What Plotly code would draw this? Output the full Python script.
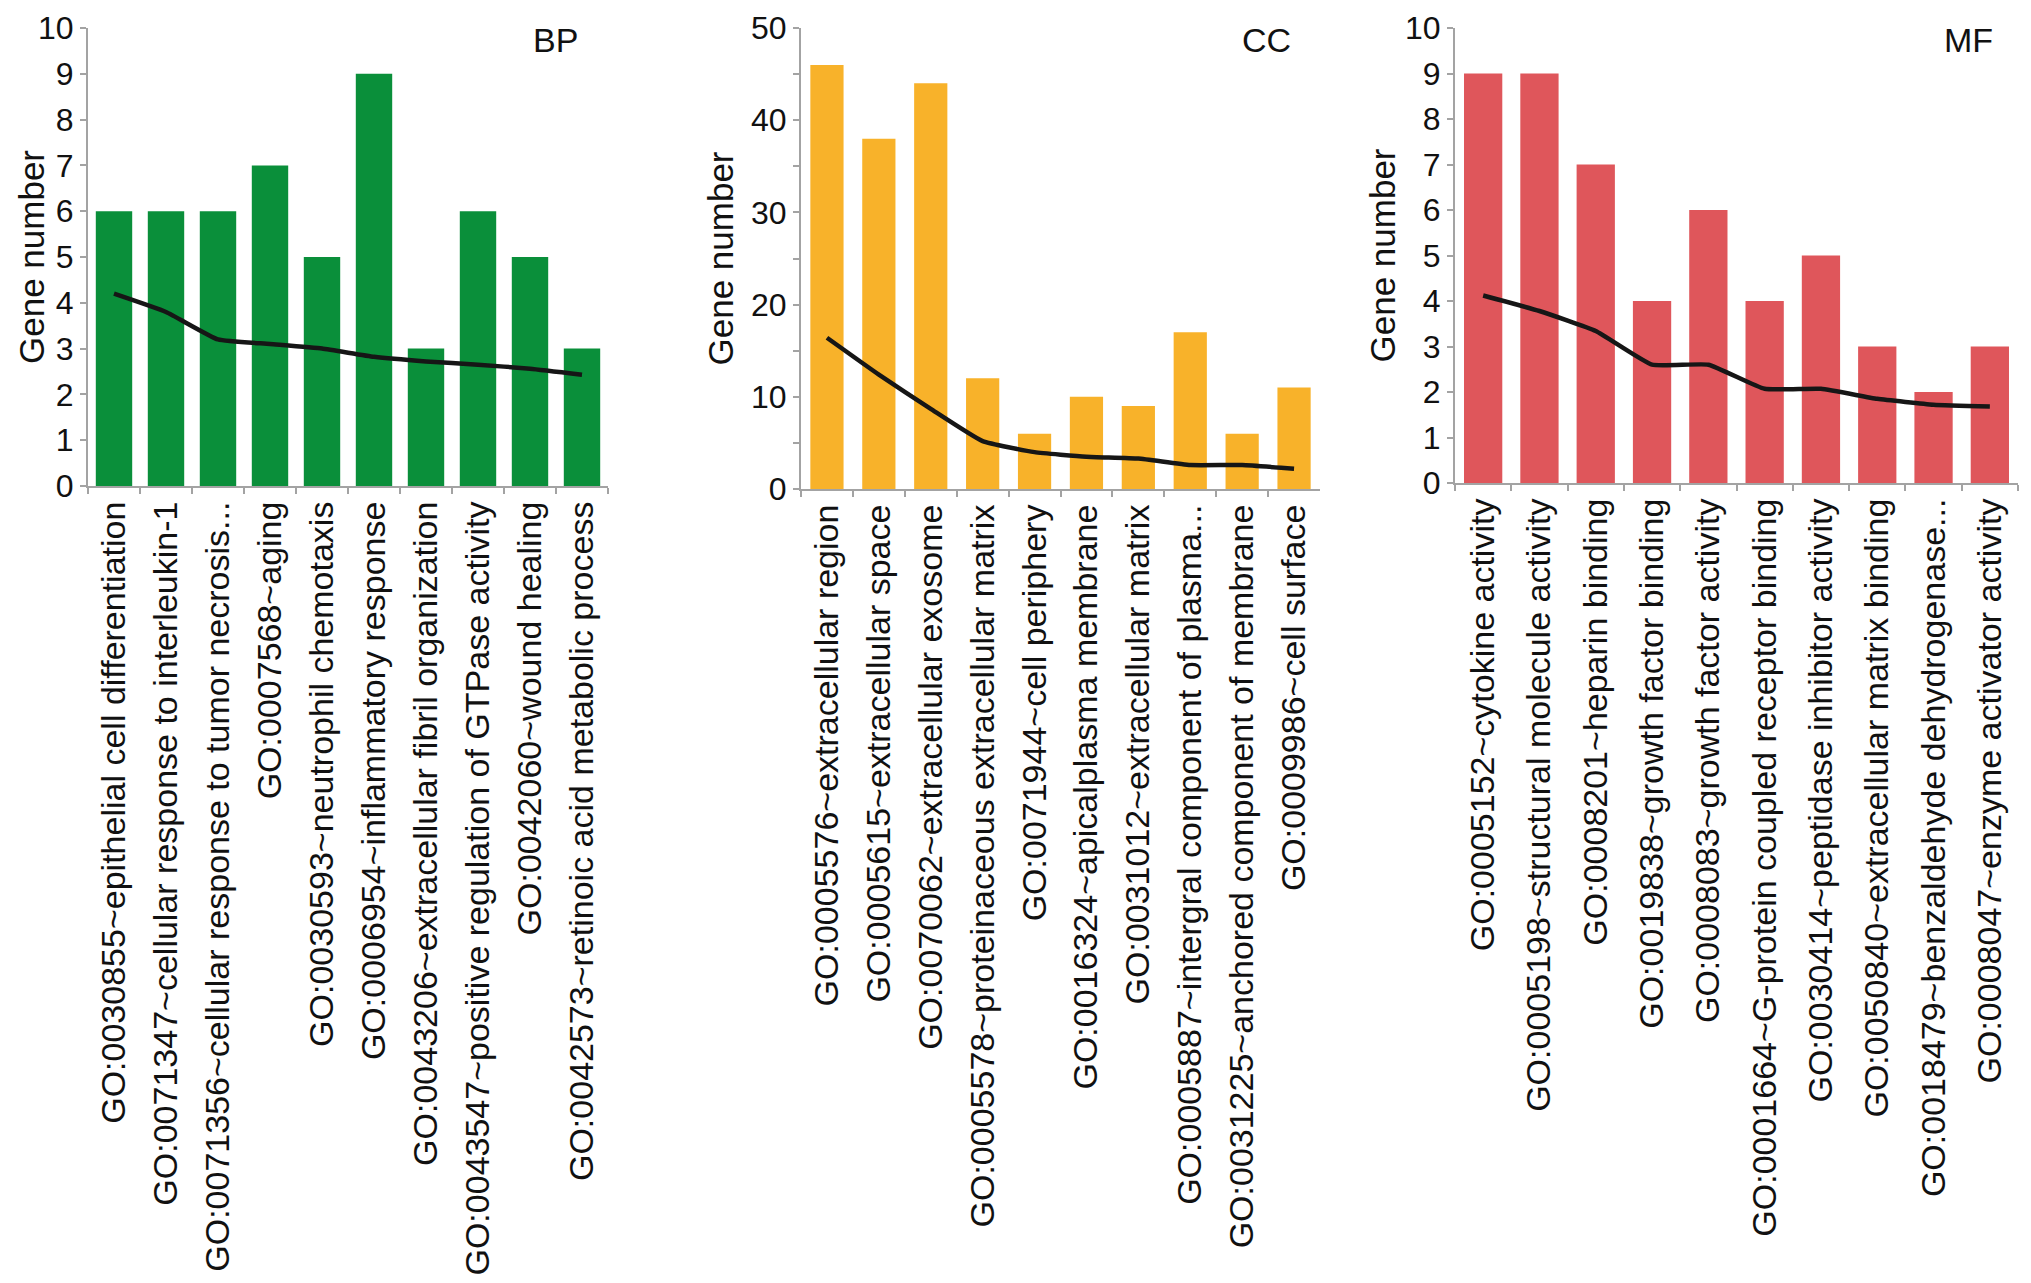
import plotly.graph_objects as go
from plotly.subplots import make_subplots

# ── Data ─────────────────────────────────────────────────────────────────────
BP_TERMS = [
    "GO:0030855~epithelial cell differentiation",
    "GO:0071347~cellular response to interleukin-1",
    "GO:0071356~cellular response to tumor necrosis...",
    "GO:0007568~aging",
    "GO:0030593~neutrophil chemotaxis",
    "GO:0006954~inflammatory response",
    "GO:0043206~extracellular fibril organization",
    "GO:0043547~positive regulation of GTPase activity",
    "GO:0042060~wound healing",
    "GO:0042573~retinoic acid metabolic process",
]
BP_COUNTS = [6, 6, 6, 7, 5, 9, 3, 6, 5, 3]
BP_LINE = [4.2, 3.8, 3.2, 3.1, 3.0, 2.82, 2.72, 2.65, 2.56, 2.43]

CC_TERMS = [
    "GO:0005576~extracellular region",
    "GO:0005615~extracellular space",
    "GO:0070062~extracellular exosome",
    "GO:0005578~proteinaceous extracellular matrix",
    "GO:0071944~cell periphery",
    "GO:0016324~apicalplasma membrane",
    "GO:0031012~extracellular matrix",
    "GO:0005887~intergral component of plasma...",
    "GO:0031225~anchored component of membrane",
    "GO:0009986~cell surface",
]
CC_COUNTS = [46, 38, 44, 12, 6, 10, 9, 17, 6, 11]
CC_LINE = [16.4, 12.4, 8.7, 5.2, 4.0, 3.5, 3.3, 2.6, 2.6, 2.2]

MF_TERMS = [
    "GO:0005152~cytokine activity",
    "GO:0005198~structural molecule activity",
    "GO:0008201~heparin binding",
    "GO:0019838~growth factor binding",
    "GO:0008083~growth factor activity",
    "GO:0001664~G-protein coupled receptor binding",
    "GO:0030414~peptidase inhibitor activity",
    "GO:0050840~extracellular matrix binding",
    "GO:0018479~benzaldehyde dehydrogenase...",
    "GO:0008047~enzyme activator activity",
]
MF_COUNTS = [9, 9, 7, 4, 6, 4, 5, 3, 2, 3]
MF_LINE = [4.12, 3.78, 3.34, 2.6, 2.6, 2.07, 2.07, 1.85, 1.72, 1.68]

PANELS = [
    ("BP", BP_TERMS, BP_COUNTS, BP_LINE, "#0A8F3A", 10, 1),
    ("CC", CC_TERMS, CC_COUNTS, CC_LINE, "#F8B22A", 50, 10),
    ("MF", MF_TERMS, MF_COUNTS, MF_LINE, "#DF565B", 10, 1),
]

FONT = "Liberation Sans, Arial, sans-serif"
AXIS_GREY = "#a3a3a3"
W, H = 2031, 1283
PAD = 8  # page body margin shifts the plot by this much

# pixel placement of each plot area: (left, right, top, bottom)
BOXES = [(88, 608, 28, 486), (801, 1320, 28, 489), (1455, 2018, 28, 483)]
BAR_W = [0.70, 0.64, 0.68]
TITLE_X = [32, 720, 1382]
TAG_X = [555, 1266, 1968]
TAG_Y = 40

fig = make_subplots(rows=1, cols=3)

for i, (tag, terms, counts, line, color, ymax, dtick) in enumerate(PANELS):
    col = i + 1
    x0, x1, y0, y1 = [v - PAD for v in BOXES[i]]
    fig.add_trace(
        go.Bar(x=terms, y=counts, width=BAR_W[i],
               marker=dict(color=color, line=dict(width=0)), showlegend=False),
        row=1, col=col,
    )
    fig.add_trace(
        go.Scatter(x=terms, y=line, mode="lines",
                   line=dict(color="#161616", width=4.5, shape="spline", smoothing=0.4),
                   showlegend=False),
        row=1, col=col,
    )
    fig.update_xaxes(
        domain=[x0 / W, x1 / W], automargin=False,
        showline=True, linecolor=AXIS_GREY, linewidth=2,
        ticks="outside", tickson="boundaries", ticklen=6, tickcolor=AXIS_GREY,
        tickwidth=2, tickangle=-90, ticklabeloverflow="allow",
        tickfont=dict(family=FONT, size=34, color="#111"),
        showgrid=False, zeroline=False,
        row=1, col=col,
    )
    yargs = dict(
        domain=[1 - y1 / H, 1 - y0 / H], automargin=False,
        range=[0, ymax], dtick=dtick, tick0=0, ticklabeloverflow="allow",
        showline=True, linecolor=AXIS_GREY, linewidth=2,
        ticks="outside", ticklen=6, tickcolor=AXIS_GREY, tickwidth=2,
        tickfont=dict(family=FONT, size=32, color="#111"),
        showgrid=False, zeroline=False,
    )
    if tag == "CC":
        yargs["minor"] = dict(dtick=5, ticks="outside", ticklen=6,
                              tickcolor=AXIS_GREY, tickwidth=2, showgrid=False)
    fig.update_yaxes(**yargs, row=1, col=col)

    fig.add_annotation(
        text="Gene number", textangle=-90, xref="paper", yref="paper",
        x=(TITLE_X[i] - PAD) / W, y=1 - ((y0 + y1) / 2) / H,
        xanchor="center", yanchor="middle", showarrow=False,
        font=dict(family=FONT, size=35, color="#111"),
    )
    fig.add_annotation(
        text=tag, xref="paper", yref="paper",
        x=(TAG_X[i] - PAD) / W, y=1 - (TAG_Y - PAD) / H,
        xanchor="center", yanchor="middle", showarrow=False,
        font=dict(family=FONT, size=34, color="#111"),
    )

fig.update_layout(
    width=W, height=H,
    margin=dict(l=0, r=0, t=0, b=0),
    paper_bgcolor="white", plot_bgcolor="white",
    font=dict(family=FONT, color="#111"),
)

fig.write_html("out.html")
